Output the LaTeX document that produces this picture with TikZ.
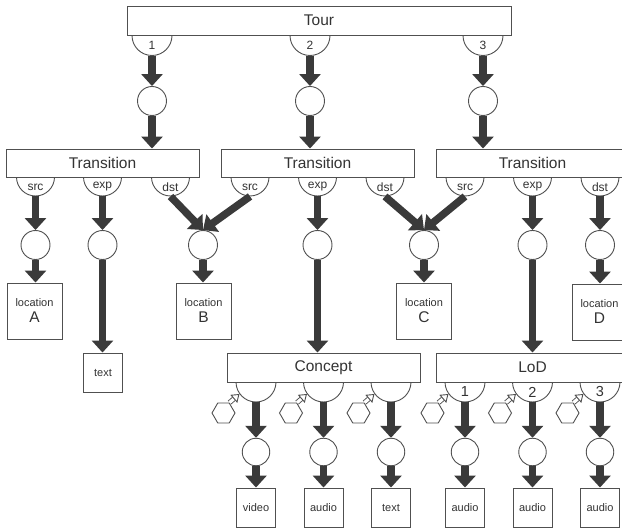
\documentclass[tikz,border=0pt]{standalone}
\usepackage{fontspec}
\setmainfont{Liberation Sans}
\usetikzlibrary{arrows.meta,shapes.geometric}
\definecolor{ink}{HTML}{333333}
\definecolor{edge}{HTML}{505050}
\definecolor{shaft}{HTML}{3A3A3A}

\begin{document}
\begin{tikzpicture}[x=1pt,y=-1pt,
  every node/.style={text=ink},
  titlebox/.style={draw=edge, line width=0.9pt, fill=white, minimum width=193pt,
    minimum height=29pt, inner sep=0pt, font=\fontsize{15.5}{18}\selectfont},
  port/.style={circle, draw=edge, line width=0.9pt, fill=white, inner sep=0pt},
  tport/.style={port, minimum size=40pt},
  sport/.style={port, minimum size=38pt},
  plabel/.style={inner sep=0pt, font=\fontsize{12}{14}\selectfont},
  biglabel/.style={inner sep=0pt, font=\fontsize{14.5}{16}\selectfont},
  place/.style={circle, draw=edge, line width=0.9pt, fill=white, inner sep=0pt, minimum size=29pt},
  lplace/.style={place, minimum size=27.5pt},
  locbox/.style={draw=edge, line width=0.9pt, fill=white, minimum width=55pt,
    minimum height=56pt, inner sep=0pt, align=center},
  mediabox/.style={draw=edge, line width=0.9pt, fill=white, minimum width=39pt,
    minimum height=39pt, inner sep=0pt, font=\fontsize{11}{13}\selectfont},
  hexa/.style={regular polygon, regular polygon sides=6, draw=edge, line width=0.9pt,
    fill=white, minimum size=23pt, inner sep=0pt},
  flow/.style={draw=shaft, line width=7.5pt, -{Triangle[length=12pt, width=21pt]}},
  hollow/.style={draw=edge, line width=0.9pt, double=white, double distance=3.2pt,
    -{Triangle[length=7.5pt, width=10.5pt, fill=white, line width=0.9pt]}},
]
\newcommand{\locsmall}{\fontsize{11}{14}\selectfont}
\newcommand{\locbig}{\fontsize{15.5}{17}\selectfont}

\useasboundingbox (0,0) rectangle (622,529);

% ---------- ports (upper halves are hidden by the boxes drawn next) ----------
\node[tport] (tp1) at (152,35.5) {};
\node[tport] (tp2) at (310,35.5) {};
\node[tport] (tp3) at (483,35.5) {};

\node[sport] (Ls) at (35.5,177) {};
\node[sport] (Le) at (102.5,177) {};
\node[sport] (Ld) at (170.5,177) {};
\node[sport] (Ms) at (250,177) {};
\node[sport] (Me) at (317.5,177) {};
\node[sport] (Md) at (385,177) {};
\node[sport] (Rs) at (465,177) {};
\node[sport] (Re) at (532.5,177) {};
\node[sport] (Rd) at (600,177) {};

\node[tport] (cp1) at (256,382) {};
\node[tport] (cp2) at (323.5,382) {};
\node[tport] (cp3) at (391,382) {};
\node[tport] (lp1) at (465,382) {};
\node[tport] (lp2) at (532.5,382) {};
\node[tport] (lp3) at (600,382) {};

% ---------- boxes ----------
\node[titlebox, minimum width=384pt] (tour) at (319,20.5) {Tour};
\node[titlebox, minimum height=28pt] (trL) at (102.5,163) {Transition};
\node[titlebox, minimum height=28pt] (trM) at (317.5,163) {Transition};
\node[titlebox, minimum height=28pt] (trR) at (532.5,163) {Transition};
\node[titlebox] (concept) at (323.5,367.5) {Concept};
\node[titlebox] (lod) at (532.5,367.5) {LoD};

% ---------- port labels ----------
\node[plabel] at ([yshift=-9.5pt]tp1.center) {1};
\node[plabel] at ([yshift=-9.5pt]tp2.center) {2};
\node[plabel] at ([yshift=-9.5pt]tp3.center) {3};
\foreach \p/\t in {Ls/src,Le/exp,Ld/dst,Ms/src,Me/exp,Md/dst,Rs/src,Re/exp,Rd/dst}
  \node[plabel] at ([yshift=-10pt]\p.center) {\t};
\node[biglabel] at ([yshift=-10pt]lp1.center) {1};
\node[biglabel] at ([yshift=-10pt]lp2.center) {2};
\node[biglabel] at ([yshift=-10pt]lp3.center) {3};

% ---------- places ----------
\node[place] (c1) at (152,101) {};
\node[place] (c2) at (310,101) {};
\node[place] (c3) at (483,101) {};

\node[place] (cA)  at (35.5,245) {};
\node[place] (cLe) at (102.5,245) {};
\node[place] (cB)  at (203,245) {};
\node[place] (cMe) at (317.5,245) {};
\node[place] (cC)  at (424,245) {};
\node[place] (cRe) at (532.5,245) {};
\node[place] (cD)  at (600,245) {};

\node[lplace] (d1) at (256,452) {};
\node[lplace] (d2) at (323.5,452) {};
\node[lplace] (d3) at (391,452) {};
\node[lplace] (d4) at (465,452) {};
\node[lplace] (d5) at (532.5,452) {};
\node[lplace] (d6) at (600,452) {};

% ---------- resources ----------
\node[locbox] (locA) at (34.5,311) {\locsmall location\\[4pt]\locbig A};
\node[locbox] (locB) at (203.5,311) {\locsmall location\\[4pt]\locbig B};
\node[locbox] (locC) at (424,311) {\locsmall location\\[4pt]\locbig C};
\node[locbox] (locD) at (599.5,312) {\locsmall location\\[4pt]\locbig D};
\node[mediabox] (txtA) at (103,372.5) {text};

\node[mediabox] (video)  at (256,507.5) {video};
\node[mediabox] (audioA) at (323.5,507.5) {audio};
\node[mediabox] (txtB)   at (391,507.5) {text};
\node[mediabox] (audioB) at (465,507.5) {audio};
\node[mediabox] (audioC) at (532.5,507.5) {audio};
\node[mediabox] (audioD) at (600,507.5) {audio};

% ---------- hexagons with hollow links ----------
\foreach \h/\p in {hx1/cp1,hx2/cp2,hx3/cp3,hx4/lp1,hx5/lp2,hx6/lp3}{
  \node[hexa] (\h) at ([xshift=-32.5pt,yshift=-31pt]\p.center) {};
  \draw[hollow] (\h.60) -- (\p.216);
}

% ---------- flows ----------
\foreach \a/\b in {tp1/c1,tp2/c2,tp3/c3}
  \draw[flow] (\a.south) -- (\b.north);
\draw[flow] (c1.south) -- (c1.south |- trL.north);
\draw[flow] (c2.south) -- (c2.south |- trM.north);
\draw[flow] (c3.south) -- (c3.south |- trR.north);

\draw[flow] (Ls.south) -- (cA.north);
\draw[flow] (Le.south) -- (cLe.north);
\draw[flow] (Ld.south) -- (cB.north);
\draw[flow] (Ms.south) -- (cB.north);
\draw[flow] (Me.south) -- (cMe.north);
\draw[flow] (Md.south) -- (cC.north);
\draw[flow] (Rs.south) -- (cC.north);
\draw[flow] (Re.south) -- (cRe.north);
\draw[flow] (Rd.south) -- (cD.north);

\draw[flow] (cA.south) -- (cA.south |- locA.north);
\draw[flow] (cLe.south) -- (cLe.south |- txtA.north);
\draw[flow] (cB.south) -- (cB.south |- locB.north);
\draw[flow] (cMe.south) -- (cMe.south |- concept.north);
\draw[flow] (cC.south) -- (cC.south |- locC.north);
\draw[flow] (cRe.south) -- (cRe.south |- lod.north);
\draw[flow] (cD.south) -- (cD.south |- locD.north);

\foreach \a/\b/\c in {cp1/d1/video,cp2/d2/audioA,cp3/d3/txtB,lp1/d4/audioB,lp2/d5/audioC,lp3/d6/audioD}{
  \draw[flow] (\a.south) -- (\b.north);
  \draw[flow] (\b.south) -- (\c.north);
}
\end{tikzpicture}
\end{document}
